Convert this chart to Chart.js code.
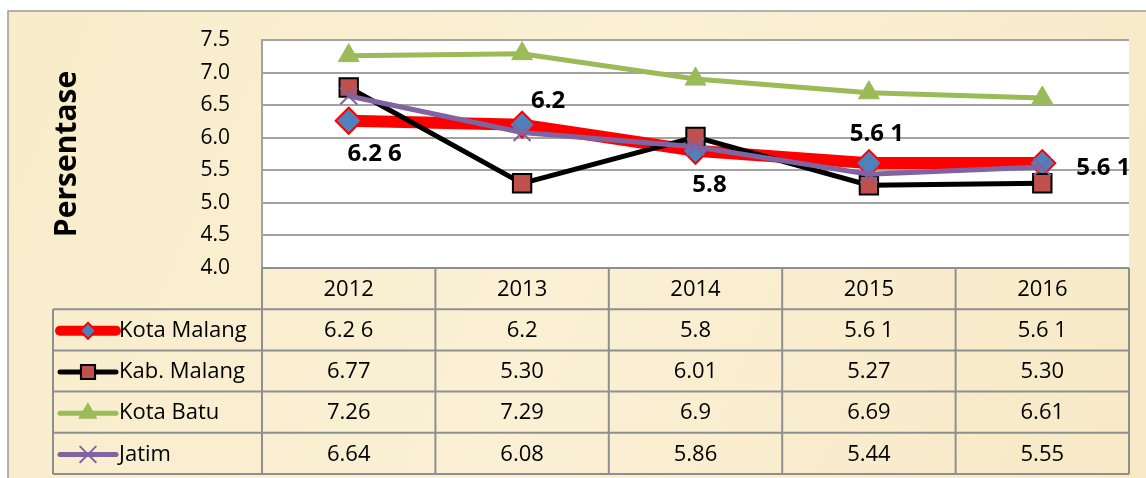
<!DOCTYPE html>
<html>
<head>
<meta charset="utf-8">
<script src="https://cdn.jsdelivr.net/npm/chart.js@4/dist/chart.umd.min.js"></script>
<style>
  html, body { margin: 0; padding: 0; background: #fff; }
  #wrap { width: 1146px; height: 478px; position: relative; }
</style>
</head>
<body>
<div id="wrap"><canvas id="chart" width="1146" height="478"></canvas></div>
<script>
// data
const years = ["2012", "2013", "2014", "2015", "2016"];
const kotaMalang = [6.26, 6.2, 5.8, 5.61, 5.61];
const kabMalang = [6.77, 5.30, 6.01, 5.27, 5.30];
const kotaBatu = [7.26, 7.29, 6.9, 6.69, 6.61];
const jatim = [6.64, 6.08, 5.86, 5.44, 5.55];

// text shown in the data table (as written in the source)
const kotaMalangText = ["6.2 6", "6.2", "5.8", "5.6 1", "5.6 1"];
const kabMalangText = ["6.77", "5.30", "6.01", "5.27", "5.30"];
const kotaBatuText = ["7.26", "7.29", "6.9", "6.69", "6.61"];
const jatimText = ["6.64", "6.08", "5.86", "5.44", "5.55"];

const yTicks = [4.0, 4.5, 5.0, 5.5, 6.0, 6.5, 7.0, 7.5];

// where the Kota Malang value labels sit relative to their point
const labelOffsets = [[26, 33], [26, -24], [14, 34], [8, -29], [61, 5]];

const FONT = "'Open Sans', 'DejaVu Sans', sans-serif";
const GRID = "#a3a3a3";
const TABLE_LINE = "#8f8f8f";

const series = [
  { label: "Kota Malang", data: kotaMalang, text: kotaMalangText, line: "#ff0000", width: 12,
    style: "rectRot", radius: 13, fill: "#4f81bd", edge: "#ff0000", edgeW: 2, legR: 8 },
  { label: "Kab. Malang", data: kabMalang, text: kabMalangText, line: "#000000", width: 5,
    style: "rect", radius: 13, fill: "#c0504d", edge: "#000000", edgeW: 2, legR: 10 },
  { label: "Kota Batu", data: kotaBatu, text: kotaBatuText, line: "#9bbb59", width: 5,
    style: "triangle", radius: 12, fill: "#9bbb59", edge: "#9bbb59", edgeW: 1, legR: 10 },
  { label: "Jatim", data: jatim, text: jatimText, line: "#8064a2", width: 5,
    style: "crossRot", radius: 12, fill: "#8064a2", edge: "#8064a2", edgeW: 2, legR: 11 }
];

const backdrop = {
  id: "backdrop",
  beforeDraw(chart) {
    const ctx = chart.ctx;
    const a = chart.chartArea;
    ctx.save();
    ctx.fillStyle = "#ffffff";
    ctx.fillRect(0, 0, chart.width, chart.height);
    const g = ctx.createLinearGradient(0, 0, chart.width, chart.height);
    g.addColorStop(0, "#f8ecca");
    g.addColorStop(0.5, "#faf0d4");
    g.addColorStop(1, "#f7e9c6");
    ctx.fillStyle = g;
    ctx.fillRect(8, 11, chart.width - 8, chart.height - 11);
    ctx.strokeStyle = "#9a9a9a";
    ctx.lineWidth = 1.5;
    ctx.beginPath();
    ctx.moveTo(8, chart.height);
    ctx.lineTo(8, 11);
    ctx.lineTo(chart.width, 11);
    ctx.stroke();
    ctx.fillStyle = "#ffffff";
    ctx.fillRect(a.left, a.top, a.right - a.left, a.bottom - a.top);
    ctx.restore();
  }
};

const valueLabels = {
  id: "valueLabels",
  afterDatasetsDraw(chart) {
    const ctx = chart.ctx;
    const meta = chart.getDatasetMeta(0);
    ctx.save();
    ctx.font = "bold 24px " + FONT;
    ctx.fillStyle = "#000";
    ctx.textAlign = "center";
    ctx.textBaseline = "middle";
    meta.data.forEach((pt, i) => {
      ctx.fillText(kotaMalangText[i], pt.x + labelOffsets[i][0], pt.y + labelOffsets[i][1]);
    });
    ctx.restore();
  }
};

function legendMark(ctx, s, cx, cy) {
  ctx.save();
  ctx.strokeStyle = s.line;
  ctx.lineWidth = s.width === 12 ? 10 : 5;
  ctx.lineCap = "round";
  ctx.beginPath();
  ctx.moveTo(cx - 28, cy);
  ctx.lineTo(cx + 28, cy);
  ctx.stroke();
  ctx.fillStyle = s.fill;
  ctx.strokeStyle = s.edge;
  ctx.lineWidth = s.edgeW;
  Chart.helpers.drawPoint(ctx, { pointStyle: s.style, radius: s.legR, rotation: 0, borderWidth: s.edgeW }, cx, cy);
  ctx.restore();
}

const dataTable = {
  id: "dataTable",
  afterDraw(chart) {
    const ctx = chart.ctx;
    const a = chart.chartArea;
    const x = chart.scales.x;
    const colW = (a.right - a.left) / years.length;
    const headTop = a.bottom;
    const rowH = 41.2;
    const legendLeft = 53;
    ctx.save();
    ctx.strokeStyle = TABLE_LINE;
    ctx.lineWidth = 2;
    ctx.beginPath();
    // header row
    ctx.moveTo(a.left, headTop);
    ctx.lineTo(a.right, headTop);
    for (let r = 1; r <= series.length + 1; r++) {
      const y = headTop + r * rowH;
      ctx.moveTo(legendLeft, y);
      ctx.lineTo(a.right, y);
    }
    const tableBottom = headTop + (series.length + 1) * rowH;
    for (let c = 0; c <= years.length; c++) {
      const xx = a.left + c * colW;
      ctx.moveTo(xx, headTop);
      ctx.lineTo(xx, tableBottom);
    }
    ctx.moveTo(legendLeft, headTop + rowH);
    ctx.lineTo(legendLeft, tableBottom);
    ctx.stroke();

    ctx.font = "22px " + FONT;
    ctx.fillStyle = "#000";
    ctx.textBaseline = "middle";
    ctx.textAlign = "center";
    years.forEach((yr, i) => {
      ctx.fillText(yr, x.getPixelForValue(i), headTop + rowH / 2 + 1);
    });
    series.forEach((s, r) => {
      const cy = headTop + (r + 1.5) * rowH + 1;
      s.text.forEach((t, i) => {
        ctx.fillText(t, x.getPixelForValue(i), cy);
      });
      legendMark(ctx, s, 88, cy);
      ctx.textAlign = "left";
      ctx.fillText(s.label, 119, cy);
      ctx.textAlign = "center";
    });
    ctx.restore();
  }
};

new Chart(document.getElementById("chart"), {
  type: "line",
  data: {
    labels: years,
    datasets: series.map((s, i) => ({
      label: s.label,
      data: s.data,
      borderColor: s.line,
      borderWidth: s.width,
      backgroundColor: s.fill,
      pointStyle: s.style,
      pointRadius: s.radius,
      pointBackgroundColor: s.fill,
      pointBorderColor: s.edge,
      pointBorderWidth: s.edgeW,
      tension: 0,
      fill: false,
      order: series.length - i
    }))
  },
  options: {
    responsive: false,
    animation: false,
    events: [],
    layout: { padding: { left: 0, right: 17, top: 40, bottom: 210 } },
    plugins: {
      legend: { display: false },
      tooltip: { enabled: false }
    },
    scales: {
      x: {
        type: "category",
        offset: true,
        display: false
      },
      y: {
        min: 4,
        max: 7.5,
        afterBuildTicks(axis) {
          axis.ticks = yTicks.map(v => ({ value: v }));
        },
        afterFit(axis) {
          axis.width = 262;
          // tick padding would otherwise push the plot top down
          axis.paddingTop = 0;
          axis.paddingBottom = 0;
        },
        ticks: {
          padding: 32,
          color: "#000",
          font: { family: FONT, size: 21 },
          callback: v => Number(v).toFixed(1)
        },
        grid: { color: GRID, lineWidth: 2, drawTicks: false },
        border: { display: true, color: GRID, width: 2 },
        title: {
          display: true,
          text: "Persentase",
          color: "#000",
          font: { family: FONT, size: 30, weight: "bold" },
          padding: { top: 49, bottom: 0 }
        }
      }
    }
  },
  plugins: [backdrop, valueLabels, dataTable]
});
</script>
</body>
</html>
